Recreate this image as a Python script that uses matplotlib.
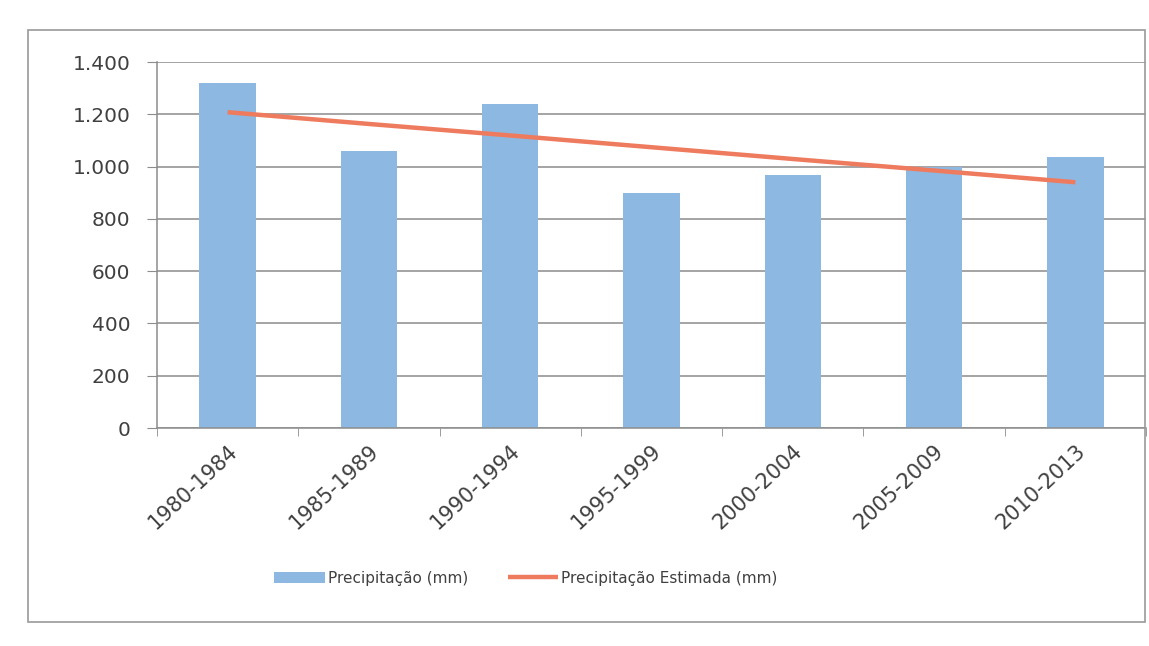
import numpy as np
import matplotlib
matplotlib.use('Agg')
from matplotlib import pyplot as plt
from matplotlib.patches import Rectangle
from matplotlib.ticker import FuncFormatter

# precipitação média por quinquénio (mm)
periodos = ['1980-1984', '1985-1989', '1990-1994', '1995-1999',
            '2000-2004', '2005-2009', '2010-2013']
precipitacao = [1320, 1060, 1240, 900, 967, 997, 1035]
estimada = [1208, 1163, 1119, 1074, 1029, 985, 940]

cor_barra = '#8DB8E1'
cor_linha = '#EF7B5F'
cinza = '#8C8C8C'
texto = '#404040'

W, H = 1149, 646
fig = plt.figure(figsize=(W / 100, H / 100), dpi=100)
fig.patch.set_facecolor('white')

# moldura do gráfico
fig.add_artist(Rectangle((28 / W, 1 - 622 / H), (1145 - 28) / W, (622 - 30) / H,
                         transform=fig.transFigure, fill=False,
                         edgecolor='#9a9a9a', linewidth=1.2))

ax = fig.add_axes([157 / W, 1 - 428 / H, (1146 - 157) / W, (428 - 62) / H])
x = np.arange(len(periodos))

barras = ax.bar(x, precipitacao, width=0.4, color=cor_barra, zorder=2,
                label='Precipitação (mm)')
linha, = ax.plot(x, estimada, color=cor_linha, linewidth=3.2, zorder=3,
                 solid_capstyle='butt', label='Precipitação Estimada (mm)')

ax.set_xlim(-0.5, len(periodos) - 0.5)
ax.set_ylim(0, 1400)
ax.set_yticks(np.arange(0, 1401, 200))
ax.yaxis.set_major_formatter(FuncFormatter(lambda v, p: f'{int(v):,}'.replace(',', '.')))
ax.grid(axis='y', color=cinza, linewidth=1.1, zorder=0)

for s in ['top', 'right']:
    ax.spines[s].set_visible(False)
for s in ['left', 'bottom']:
    ax.spines[s].set_color(cinza)
    ax.spines[s].set_linewidth(1.1)

ax.set_xticks(x)
ax.set_xticklabels(periodos, rotation=43, ha='right', rotation_mode='anchor',
                   fontsize=15, color=texto)
ax.set_xticks(np.arange(-0.5, len(periodos), 1), minor=True)
ax.tick_params(axis='x', which='major', length=0, pad=9)
ax.tick_params(axis='x', which='minor', length=6, color=cinza, direction='out')
ax.tick_params(axis='y', length=7, color=cinza, pad=12, labelsize=14.5,
               labelcolor=texto)

fig.legend(handles=[barras, linha], loc='center',
           bbox_to_anchor=(526 / W, 1 - 578 / H), ncol=2,
           frameon=False, fontsize=11, handlelength=3.3, handleheight=0.7,
           handletextpad=0.2, columnspacing=2.6, labelcolor=texto)

fig.savefig('out.png', dpi=100, facecolor='white')
